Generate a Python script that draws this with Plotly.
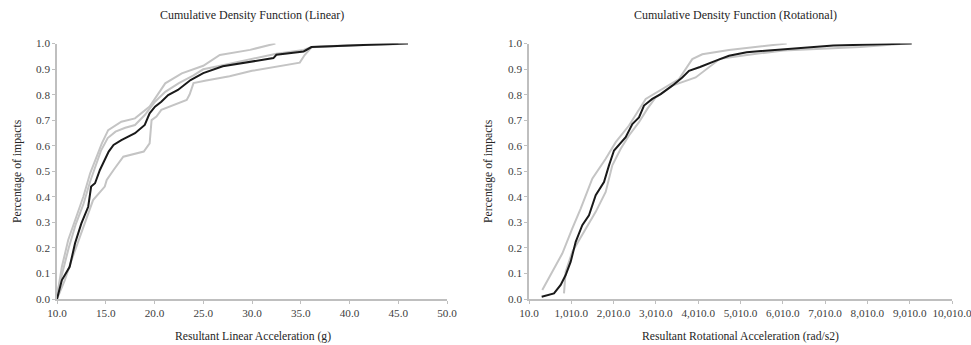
import plotly.graph_objects as go

# ---------------- Data: Linear (g) ----------------
lin_mean_x = [10.0, 10.5, 11.3, 11.85, 12.5, 13.2, 13.5, 13.9, 14.4, 14.9, 15.3, 15.8, 16.6, 18.0, 19.0,
              19.5, 20.05, 20.7, 21.4, 22.4, 23.7, 25.0, 27.0, 32.2, 32.5, 35.3, 36.1, 42.1, 46.0]
lin_mean_y = [0.0, 0.074, 0.126, 0.218, 0.296, 0.361, 0.44, 0.453, 0.505, 0.544, 0.577, 0.603, 0.622, 0.649, 0.681,
              0.727, 0.753, 0.772, 0.798, 0.818, 0.857, 0.884, 0.911, 0.943, 0.956, 0.969, 0.986, 0.995, 1.0]

lin_g1_x = [10.0, 10.5, 11.15, 11.85, 12.7, 13.4, 14.05, 14.6, 15.25, 16.6, 18.0, 19.5, 21.1, 22.8, 25.0, 26.7, 29.8, 32.4]
lin_g1_y = [0.01, 0.126, 0.231, 0.309, 0.40, 0.492, 0.557, 0.609, 0.661, 0.694, 0.707, 0.753, 0.844, 0.883, 0.913, 0.955, 0.975, 1.0]

lin_g2_x = [10.0, 10.5, 11.2, 11.9, 12.7, 13.4, 14.0, 14.5, 15.2, 16.0, 17.0, 18.0, 19.0, 20.0, 21.1, 22.5, 24.0, 25.0,
            27.0, 30.0, 32.5, 35.3, 36.1, 40.0, 45.0]
lin_g2_y = [0.02, 0.10, 0.20, 0.29, 0.37, 0.46, 0.53, 0.58, 0.63, 0.655, 0.67, 0.681, 0.72, 0.77, 0.811, 0.845, 0.875, 0.899,
            0.915, 0.938, 0.96, 0.975, 0.986, 0.993, 0.998]

lin_g3_x = [10.0, 10.8, 11.5, 12.5, 13.2, 13.7, 14.9, 15.1, 15.8, 16.5, 16.8, 18.9, 19.5, 19.7, 20.2, 20.7, 22.4, 23.3,
            23.6, 24.0, 25.3, 27.7, 30.0, 34.9, 35.4, 36.1, 40.0, 45.0]
lin_g3_y = [0.0, 0.074, 0.153, 0.257, 0.335, 0.387, 0.44, 0.466, 0.505, 0.544, 0.557, 0.577, 0.609, 0.70, 0.714, 0.74, 0.766, 0.779,
            0.80, 0.845, 0.855, 0.872, 0.893, 0.925, 0.955, 0.985, 0.992, 0.998]

lin_ticks = [10, 15, 20, 25, 30, 35, 40, 45, 50]

# ---------------- Data: Rotational (rad/s2) ----------------
rot_mean_x = [310, 601, 759, 877, 996, 1114, 1270, 1428, 1587, 1783, 1901, 2020, 2296, 2453, 2610, 2729, 2925,
              3124, 3398, 3634, 3792, 4052, 4447, 4738, 5156, 6180, 7204, 9058]
rot_mean_y = [0.009, 0.022, 0.055, 0.094, 0.146, 0.224, 0.289, 0.328, 0.406, 0.458, 0.523, 0.581, 0.633, 0.685, 0.711,
              0.757, 0.783, 0.802, 0.835, 0.867, 0.893, 0.908, 0.934, 0.952, 0.966, 0.979, 0.992, 1.0]

rot_g1_x = [324, 560, 797, 1034, 1232, 1506, 1823, 2060, 2374, 2769, 3161, 3556, 3870, 4107, 4738, 6102]
rot_g1_y = [0.035, 0.107, 0.178, 0.276, 0.354, 0.471, 0.549, 0.614, 0.679, 0.783, 0.822, 0.861, 0.939, 0.958, 0.975, 1.0]

rot_g2_x = [837, 877, 1034, 1270, 1587, 1823, 1980, 2178, 2374, 2610, 2807, 3004, 3398, 3950, 4265, 4525, 5076,
            6022, 7840, 8785]
rot_g2_y = [0.022, 0.107, 0.185, 0.25, 0.341, 0.419, 0.523, 0.588, 0.64, 0.692, 0.744, 0.789, 0.835, 0.867, 0.906,
            0.94, 0.953, 0.973, 0.986, 0.998]

rot_ticks = [10, 1010, 2010, 3010, 4010, 5010, 6010, 7010, 8010, 9010, 10010]

y_ticks = [0.0, 0.1, 0.2, 0.3, 0.4, 0.5, 0.6, 0.7, 0.8, 0.9, 1.0]

# ---------------- Figure ----------------
W, H = 971, 345
FONT = "Liberation Serif"
GRAY = "#c4c4c4"
BLACK = "#1a1a1a"
AXC = "#bfbfbf"


def fx(px):  # window pixel x -> paper fraction
    return px / W


def fy(py):  # window pixel y -> paper fraction
    return 1 - py / H


fig = go.Figure()


def add(x, y, color, xa, ya):
    fig.add_trace(go.Scatter(x=x, y=y, mode="lines", line=dict(color=color, width=2),
                             xaxis=xa, yaxis=ya, showlegend=False, hoverinfo="skip"))


for gx, gy in [(lin_g1_x, lin_g1_y), (lin_g2_x, lin_g2_y), (lin_g3_x, lin_g3_y)]:
    add(gx, gy, GRAY, "x", "y")
add(lin_mean_x, lin_mean_y, BLACK, "x", "y")

for gx, gy in [(rot_g1_x, rot_g1_y), (rot_g2_x, rot_g2_y)]:
    add(gx, gy, GRAY, "x2", "y2")
add(rot_mean_x, rot_mean_y, BLACK, "x2", "y2")

tickfont = dict(family=FONT, size=11.2, color="#404040")

common_x = dict(showgrid=False, zeroline=False, showline=True, linecolor=AXC, linewidth=1.5,
                ticks="outside", ticklen=3, tickcolor=AXC, tickfont=tickfont, automargin=False,
                ticklabeloverflow="allow")
common_y = dict(showgrid=False, zeroline=False, showline=True, linecolor=AXC, linewidth=1.5,
                ticks="outside", ticklen=3, tickcolor=AXC, tickfont=tickfont, range=[0, 1.0],
                tickvals=y_ticks, ticktext=[f"{v:.1f}" for v in y_ticks], automargin=False)

yd = [fy(299), fy(43.5)]

fig.update_layout(
    template="none",
    width=W, height=H,
    margin=dict(l=0, r=0, t=0, b=0, pad=0, autoexpand=False),
    paper_bgcolor="white", plot_bgcolor="white",
    font=dict(family=FONT, color="#404040"),
    xaxis=dict(common_x, domain=[fx(57), fx(447)], range=[10, 50],
               tickvals=lin_ticks, ticktext=[f"{v:.1f}" for v in lin_ticks], anchor="y"),
    yaxis=dict(common_y, domain=yd, anchor="x"),
    xaxis2=dict(common_x, domain=[fx(529), fx(952)], range=[10, 10010],
                tickvals=rot_ticks, ticktext=[f"{v:,.1f}" for v in rot_ticks], anchor="y2"),
    yaxis2=dict(common_y, domain=yd, anchor="x2"),
)

ann = [
    dict(text="Cumulative Density Function (Linear)", x=252, y=15, size=12),
    dict(text="Cumulative Density Function (Rotational)", x=735, y=15, size=12),
    dict(text="Resultant Linear Acceleration (g)", x=253, y=336, size=11.7),
    dict(text="Resultant Rotational Acceleration (rad/s2)", x=740, y=336, size=11.7),
]
for a in ann:
    fig.add_annotation(text=a["text"], x=fx(a["x"]), y=fy(a["y"]), xref="paper", yref="paper",
                       showarrow=False, xanchor="center", yanchor="middle",
                       font=dict(family=FONT, size=a["size"], color="#262626"))
for xp in [17, 488]:
    fig.add_annotation(text="Percentage of impacts", x=fx(xp), y=fy(171), xref="paper", yref="paper",
                       showarrow=False, xanchor="center", yanchor="middle", textangle=-90,
                       font=dict(family=FONT, size=11.7, color="#262626"))

# Remove the browser's default 8px body margin so the figure fills the window exactly.
fig.write_html("out.html",
               config={"displayModeBar": False},
               post_script="document.body.style.margin='0';document.body.style.overflow='hidden';")
